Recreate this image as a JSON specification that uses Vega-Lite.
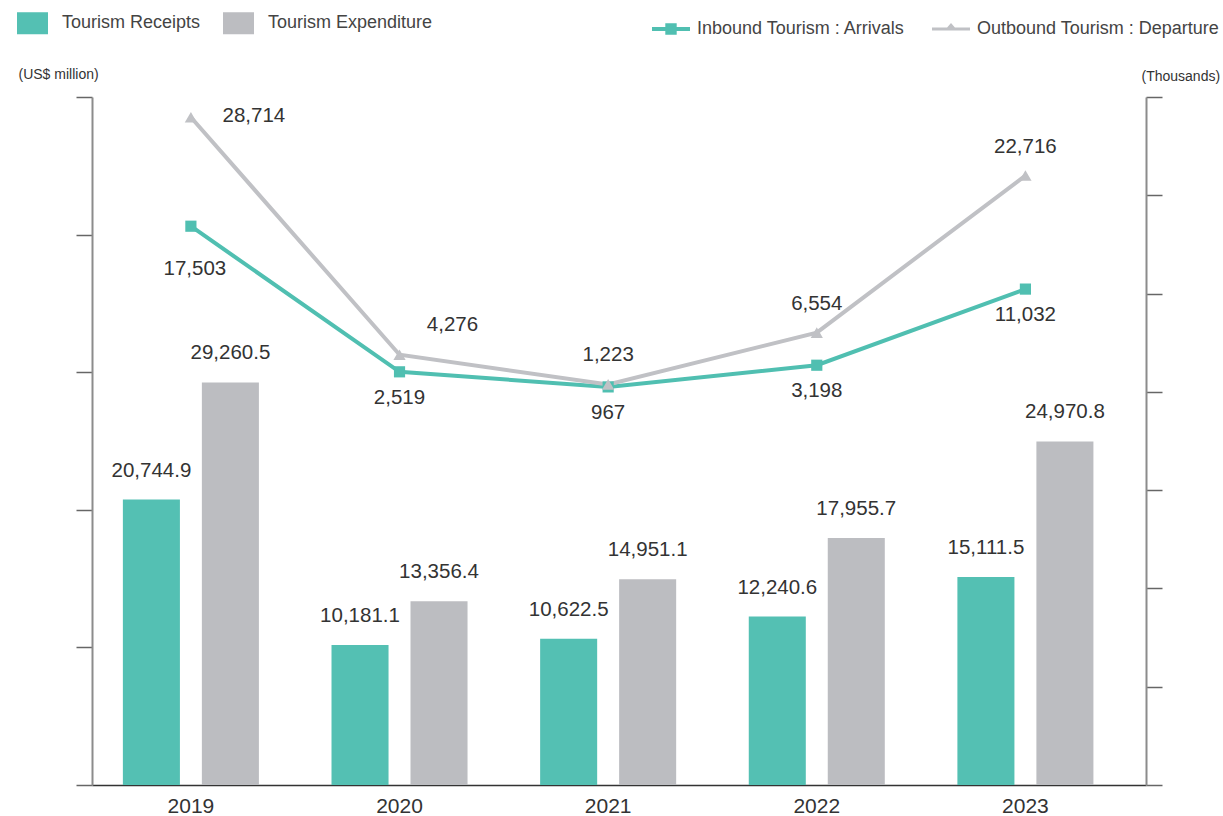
{
  "$schema": "https://vega.github.io/schema/vega-lite/v6.json",
  "width": 1054,
  "height": 688,
  "autosize": {"type": "none"},
  "padding": {"left": 92, "top": 97, "right": 77, "bottom": 31},
  "background": "white",
  "config": {
    "view": {"stroke": null},
    "font": "Liberation Sans",
    "axis": {"labelFont": "Liberation Sans", "titleFont": "Liberation Sans"},
    "legend": {"labelFont": "Liberation Sans"},
    "text": {"font": "Liberation Sans"}
  },
  "datasets": {
    "money": [
      {"year": "2019", "type": "Tourism Receipts", "value": 20744.9},
      {"year": "2019", "type": "Tourism Expenditure", "value": 29260.5},
      {"year": "2020", "type": "Tourism Receipts", "value": 10181.1},
      {"year": "2020", "type": "Tourism Expenditure", "value": 13356.4},
      {"year": "2021", "type": "Tourism Receipts", "value": 10622.5},
      {"year": "2021", "type": "Tourism Expenditure", "value": 14951.1},
      {"year": "2022", "type": "Tourism Receipts", "value": 12240.6},
      {"year": "2022", "type": "Tourism Expenditure", "value": 17955.7},
      {"year": "2023", "type": "Tourism Receipts", "value": 15111.5},
      {"year": "2023", "type": "Tourism Expenditure", "value": 24970.8}
    ],
    "people": [
      {"year": "2019", "series": "Inbound Tourism : Arrivals", "value": 17503},
      {"year": "2020", "series": "Inbound Tourism : Arrivals", "value": 2519},
      {"year": "2021", "series": "Inbound Tourism : Arrivals", "value": 967},
      {"year": "2022", "series": "Inbound Tourism : Arrivals", "value": 3198},
      {"year": "2023", "series": "Inbound Tourism : Arrivals", "value": 11032},
      {"year": "2019", "series": "Outbound Tourism : Departure", "value": 28714},
      {"year": "2020", "series": "Outbound Tourism : Departure", "value": 4276},
      {"year": "2021", "series": "Outbound Tourism : Departure", "value": 1223},
      {"year": "2022", "series": "Outbound Tourism : Departure", "value": 6554},
      {"year": "2023", "series": "Outbound Tourism : Departure", "value": 22716}
    ]
  },
  "encoding": {
    "x": {
      "field": "year",
      "type": "nominal",
      "sort": ["2019", "2020", "2021", "2022", "2023"],
      "scale": {"paddingInner": 0.348, "paddingOuter": 0.2, "align": 0.37},
      "axis": {
        "title": null,
        "ticks": false,
        "labelAngle": 0,
        "labelFontSize": 21,
        "labelColor": "#333333",
        "labelPadding": 10,
        "domainColor": "#333333",
        "domainWidth": 1.5,
        "grid": false
      }
    }
  },
  "layer": [
    {
      "data": {"name": "money"},
      "encoding": {
        "y": {
          "field": "value",
          "type": "quantitative",
          "scale": {"domain": [0, 50000], "nice": false},
          "axis": {
            "orient": "left",
            "values": [0, 10000, 20000, 30000, 40000, 50000],
            "labels": false,
            "grid": false,
            "tickSize": 16,
            "tickColor": "#666666",
            "tickWidth": 1.5,
            "domainColor": "#8c8c8c",
            "domainWidth": 2,
            "title": "(US$ million)",
            "titleAngle": 0,
            "titleX": -74,
            "titleY": -19,
            "titleAlign": "left",
            "titleBaseline": "alphabetic",
            "titleFontSize": 14,
            "titleFontWeight": "normal",
            "titleColor": "#333333"
          }
        },
        "xOffset": {
          "field": "type",
          "type": "nominal",
          "sort": ["Tourism Receipts", "Tourism Expenditure"],
          "scale": {"paddingInner": 0.278, "paddingOuter": 0}
        }
      },
      "layer": [
        {
          "mark": {"type": "bar"},
          "encoding": {
            "fill": {
              "field": "type",
              "type": "nominal",
              "scale": {"domain": ["Tourism Receipts", "Tourism Expenditure"], "range": ["#54c0b3", "#bcbdc1"]},
              "legend": {
                "orient": "none",
                "legendX": -75,
                "legendY": -89.5,
                "direction": "horizontal",
                "columns": 2,
                "title": null,
                "symbolType": "M-1,-0.71L1,-0.71L1,0.71L-1,0.71Z",
                "symbolSize": 961,
                "symbolStrokeWidth": 0,
                "symbolOpacity": 1,
                "labelFontSize": 18,
                "labelColor": "#444444",
                "labelOffset": 14,
                "columnPadding": 22,
                "padding": 0,
                "labelLimit": 400
              }
            }
          }
        },
        {
          "mark": {"type": "text", "dy": -23, "baseline": "alphabetic", "fontSize": 20.5, "color": "#333333"},
          "encoding": {
            "text": {"field": "value", "type": "quantitative", "format": ",.1f"}
          }
        }
      ]
    },
    {
      "data": {"name": "people"},
      "encoding": {
        "y": {
          "field": "value",
          "type": "quantitative",
          "scale": {"domain": [-40000, 30800], "nice": false, "zero": false},
          "axis": {
            "orient": "right",
            "values": [-40000, -29885.714, -19771.429, -9657.143, 457.143, 10571.429, 20685.714, 30800],
            "labels": false,
            "grid": false,
            "tickSize": 16,
            "tickColor": "#666666",
            "tickWidth": 1.5,
            "domainColor": "#8c8c8c",
            "domainWidth": 2,
            "title": "(Thousands)",
            "titleAngle": 0,
            "titleX": -5,
            "titleY": -17,
            "titleAlign": "left",
            "titleBaseline": "alphabetic",
            "titleFontSize": 14,
            "titleFontWeight": "normal",
            "titleColor": "#333333"
          }
        }
      },
      "layer": [
        {
          "mark": {"type": "line", "strokeWidth": 4},
          "encoding": {
            "stroke": {
              "field": "series",
              "type": "nominal",
              "scale": {"domain": ["Inbound Tourism : Arrivals", "Outbound Tourism : Departure"], "range": ["#50bfb1", "#c0c1c5"]},
              "legend": {
                "orient": "none",
                "legendX": 560,
                "legendY": -87,
                "direction": "horizontal",
                "columns": 2,
                "title": null,
                "symbolSize": 1444,
                "labelFontSize": 18,
                "labelColor": "#444444",
                "labelOffset": 7,
                "columnPadding": 26,
                "padding": 0,
                "labelLimit": 400,
                "encode": {
                  "symbols": {
                    "update": {
                      "shape": {"signal": "datum.value === 'Inbound Tourism : Arrivals' ? 'M-1,-0.105L1,-0.105L1,0.105L-1,0.105ZM-0.3,-0.3L0.3,-0.3L0.3,0.3L-0.3,0.3Z' : 'M-1,-0.08L1,-0.08L1,0.08L-1,0.08ZM-0.34,0.08L0,-0.32L0.34,0.08Z'"},
                      "fill": {"signal": "datum.value === 'Inbound Tourism : Arrivals' ? '#50bfb1' : '#c0c1c5'"},
                      "strokeWidth": {"value": 0},
                      "opacity": {"value": 1}
                    }
                  }
                }
              }
            }
          }
        },
        {
          "transform": [{"filter": "datum.series === 'Inbound Tourism : Arrivals'"}],
          "mark": {"type": "point", "filled": true, "opacity": 1, "size": 125, "shape": "square", "color": "#50bfb1"}
        },
        {
          "transform": [{"filter": "datum.series === 'Outbound Tourism : Departure'"}],
          "mark": {"type": "point", "filled": true, "opacity": 1, "size": 150, "shape": "triangle-up", "color": "#c0c1c5"}
        },
        {
          "transform": [{"filter": "datum.series === 'Outbound Tourism : Departure' && datum.year >= '2021'"}],
          "mark": {"type": "text", "dy": -23, "baseline": "alphabetic", "fontSize": 20.5, "color": "#333333"},
          "encoding": {"text": {"field": "value", "type": "quantitative", "format": ",.0f"}}
        },
        {
          "transform": [{"filter": "datum.series === 'Outbound Tourism : Departure' && datum.year === '2020'"}],
          "mark": {"type": "text", "dx": 53, "dy": -24, "baseline": "alphabetic", "fontSize": 20.5, "color": "#333333"},
          "encoding": {"text": {"field": "value", "type": "quantitative", "format": ",.0f"}}
        },
        {
          "transform": [{"filter": "datum.series === 'Outbound Tourism : Departure' && datum.year === '2019'"}],
          "mark": {"type": "text", "dx": 63, "dy": 5, "baseline": "alphabetic", "fontSize": 20.5, "color": "#333333"},
          "encoding": {"text": {"field": "value", "type": "quantitative", "format": ",.0f"}}
        },
        {
          "transform": [{"filter": "datum.series === 'Inbound Tourism : Arrivals' && datum.year >= '2020'"}],
          "mark": {"type": "text", "dy": 32, "baseline": "alphabetic", "fontSize": 20.5, "color": "#333333"},
          "encoding": {"text": {"field": "value", "type": "quantitative", "format": ",.0f"}}
        },
        {
          "transform": [{"filter": "datum.series === 'Inbound Tourism : Arrivals' && datum.year === '2019'"}],
          "mark": {"type": "text", "dx": 4, "dy": 49, "baseline": "alphabetic", "fontSize": 20.5, "color": "#333333"},
          "encoding": {"text": {"field": "value", "type": "quantitative", "format": ",.0f"}}
        }
      ]
    }
  ],
  "resolve": {"scale": {"y": "independent"}}
}
